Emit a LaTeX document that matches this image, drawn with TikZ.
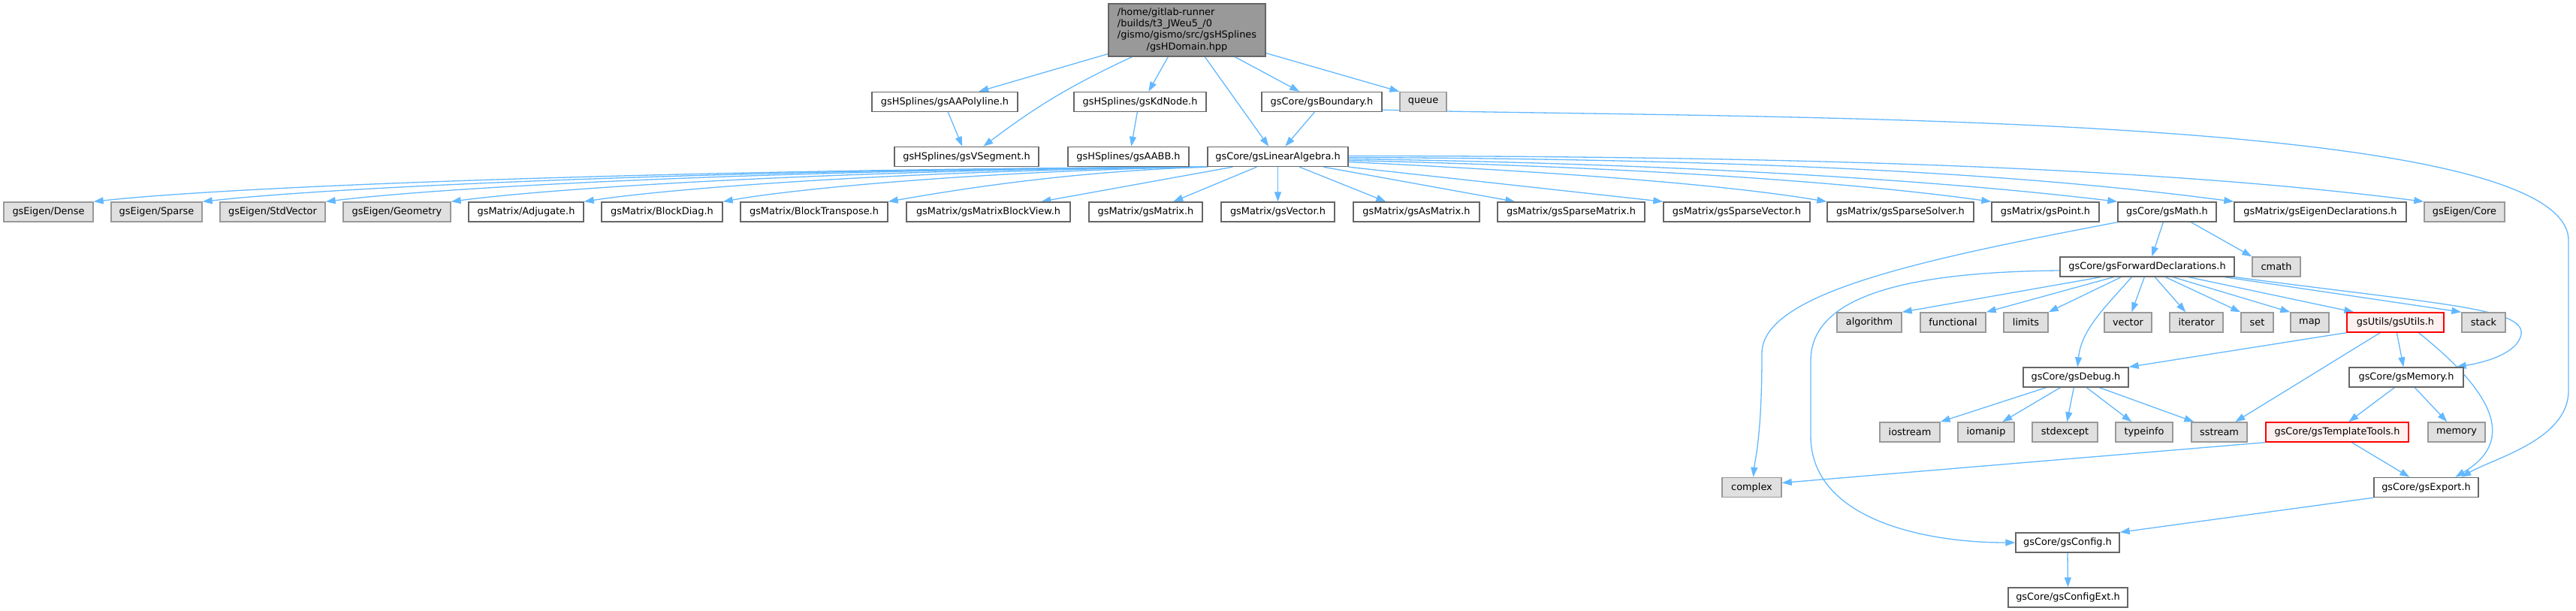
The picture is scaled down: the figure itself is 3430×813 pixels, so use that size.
\documentclass[tikz,border=0pt]{standalone}
\usepackage{fontspec}
\newfontfamily\djf{DejaVu Sans}
\usetikzlibrary{arrows.meta}
\definecolor{boxline}{HTML}{666666}
\definecolor{sysline}{HTML}{999999}
\definecolor{sysfill}{HTML}{E0E0E0}
\definecolor{rootfill}{HTML}{999999}
\definecolor{redfill}{HTML}{FFF0F0}
\definecolor{redline}{HTML}{FF0000}
\definecolor{edgecol}{HTML}{63B8FF}
\pgfdeclarelayer{bg}
\pgfsetlayers{bg,main}
\tikzset{
  nbox/.style={draw=boxline, fill=white, line width=1.4pt, minimum height=26pt, inner sep=0pt, font={\djf\fontsize{12.9}{15.3}\selectfont}},
  gbox/.style={nbox, draw=sysline, fill=sysfill},
  rbox/.style={nbox, draw=redline, fill=redfill},
  rootnode/.style={nbox, fill=rootfill, minimum height=70pt},
  edg/.style={draw=edgecol, line width=1.3pt, -{Triangle[length=13pt,width=9pt]}},
}
\begin{document}
\begin{tikzpicture}[x=1pt,y=-1pt]
\useasboundingbox (0,0) rectangle (3430,813);
% root
\node[rootnode, minimum width=209pt] (root) at (1580.5,40) {\begin{tabular}{@{}l@{}}/home/gitlab-runner\\/builds/t3\_JWeu5\_/0\\/gismo/gismo/src/gsHSplines\\\multicolumn{1}{@{}c@{}}{/gsHDomain.hpp}\end{tabular}};
% row 1
\node[nbox, minimum width=194pt] (poly) at (1258,135.5) {gsHSplines/gsAAPolyline.h};
\node[nbox, minimum width=176pt] (kd) at (1518,135.5) {gsHSplines/gsKdNode.h};
\node[nbox, minimum width=160pt] (bnd) at (1760,135.5) {gsCore/gsBoundary.h};
\node[gbox, minimum width=62pt] (queue) at (1895,135.5) {queue};
% row 2
\node[nbox, minimum width=192pt] (vseg) at (1287,208.5) {gsHSplines/gsVSegment.h};
\node[nbox, minimum width=161pt] (aabb) at (1502.5,208.5) {gsHSplines/gsAABB.h};
\node[nbox, minimum width=187pt] (la) at (1701.5,208.5) {gsCore/gsLinearAlgebra.h};
% row 3
\node[gbox, minimum width=119pt] (dense) at (64.5,282) {gsEigen/Dense};
\node[gbox, minimum width=121pt] (sparse) at (208.5,282) {gsEigen/Sparse};
\node[gbox, minimum width=140pt] (stdvec) at (363,282) {gsEigen/StdVector};
\node[gbox, minimum width=143pt] (geom) at (528.5,282) {gsEigen/Geometry};
\node[nbox, minimum width=153pt] (adj) at (700.5,282) {gsMatrix/Adjugate.h};
\node[nbox, minimum width=161pt] (bdiag) at (881.5,282) {gsMatrix/BlockDiag.h};
\node[nbox, minimum width=196pt] (btrans) at (1084,282) {gsMatrix/BlockTranspose.h};
\node[nbox, minimum width=218pt] (mbv) at (1316,282) {gsMatrix/gsMatrixBlockView.h};
\node[nbox, minimum width=151pt] (gsmat) at (1525.5,282) {gsMatrix/gsMatrix.h};
\node[nbox, minimum width=151pt] (gsvec) at (1701.5,282) {gsMatrix/gsVector.h};
\node[nbox, minimum width=168pt] (asmat) at (1886,282) {gsMatrix/gsAsMatrix.h};
\node[nbox, minimum width=196pt] (spmat) at (2092,282) {gsMatrix/gsSparseMatrix.h};
\node[nbox, minimum width=195pt] (spvec) at (2312.5,282) {gsMatrix/gsSparseVector.h};
\node[nbox, minimum width=195pt] (spsol) at (2530.5,282) {gsMatrix/gsSparseSolver.h};
\node[nbox, minimum width=143pt] (point) at (2723.5,282) {gsMatrix/gsPoint.h};
\node[nbox, minimum width=131pt] (math) at (2885.5,282) {gsCore/gsMath.h};
\node[nbox, minimum width=229pt] (eigdecl) at (3089.5,282) {gsMatrix/gsEigenDeclarations.h};
\node[gbox, minimum width=107pt] (core) at (3281.5,282) {gsEigen/Core};
% FD row
\node[nbox, minimum width=232pt] (fd) at (2859,355) {gsCore/gsForwardDeclarations.h};
\node[gbox, minimum width=64pt] (cmath) at (3031,355) {cmath};
% algorithm row
\node[gbox, minimum width=86pt] (alg) at (2489,429) {algorithm};
\node[gbox, minimum width=87pt] (func) at (2600.5,429) {functional};
\node[gbox, minimum width=59pt] (lim) at (2697.5,429) {limits};
\node[gbox, minimum width=63pt] (vec) at (2833.5,429) {vector};
\node[gbox, minimum width=71pt] (iter) at (2924.5,429) {iterator};
\node[gbox, minimum width=43pt] (set) at (3005.5,429) {set};
\node[gbox, minimum width=51pt] (map) at (3075.5,429) {map};
\node[rbox, minimum width=129pt] (utils) at (3189.5,429) {gsUtils/gsUtils.h};
\node[gbox, minimum width=58pt] (stack) at (3307,429) {stack};
% debug row
\node[nbox, minimum width=140pt] (dbg) at (2764,502) {gsCore/gsDebug.h};
\node[nbox, minimum width=152pt] (mem) at (3204,502) {gsCore/gsMemory.h};
% iostream row
\node[gbox, minimum width=80pt] (ios) at (2543,575) {iostream};
\node[gbox, minimum width=75pt] (iom) at (2644.5,575) {iomanip};
\node[gbox, minimum width=87pt] (stdx) at (2749.5,575) {stdexcept};
\node[gbox, minimum width=76pt] (tinfo) at (2855,575) {typeinfo};
\node[gbox, minimum width=74pt] (sstr) at (2955,575) {sstream};
\node[rbox, minimum width=190pt] (tt) at (3112,575) {gsCore/gsTemplateTools.h};
\node[gbox, minimum width=76pt] (memory) at (3271,575) {memory};
% complex row
\node[gbox, minimum width=79pt] (cplx) at (2332.5,648.5) {complex};
\node[nbox, minimum width=139pt] (exp) at (3230.5,648.5) {gsCore/gsExport.h};
% config rows
\node[nbox, minimum width=138pt] (cfg) at (2753,722) {gsCore/gsConfig.h};
\node[nbox, minimum width=159pt] (ext) at (2753.5,795) {gsCore/gsConfigExt.h};

\begin{pgfonlayer}{bg}
% root edges
\draw[edg] ([yshift=4pt]root.south west) -- ([xshift=143pt]poly.north west);
\draw[edg] ([xshift=32pt]root.south west) to[bend right=6] ([xshift=119pt]vseg.north west);
\draw[edg] ([xshift=80pt]root.south west) -- ([xshift=100pt]kd.north west);
\draw[edg] ([xshift=129pt]root.south west) -- ([xshift=82pt]la.north west);
\draw[edg] ([xshift=169pt]root.south west) -- ([xshift=51pt]bnd.north west);
\draw[edg] ([yshift=5pt]root.south east) -- (queue.north west);
\draw[edg] ([xshift=102pt]poly.south west) -- ([xshift=91pt]vseg.north west);
\draw[edg] ([xshift=85pt]kd.south west) -- ([xshift=85pt]aabb.north west);
\draw[edg] ([xshift=71pt]bnd.south west) -- ([xshift=104pt]la.north west);
\draw[edg] ([yshift=3pt]bnd.south east) .. controls (2300,158) and (3420,145) .. (3420,320) -- (3420,520) .. controls (3420,585) and (3320,610) .. ([xshift=117pt]exp.north west);
% linear algebra edges, left group
\draw[edg] (la.south west) .. controls +(-670,3) and +(200,-22) .. (dense.north east);
\draw[edg] (la.south west) .. controls +(-600,3) and +(200,-22) .. (sparse.north east);
\draw[edg] (la.south west) .. controls +(-530,3) and +(180,-22) .. (stdvec.north east);
\draw[edg] (la.south west) .. controls +(-450,3) and +(150,-20) .. (geom.north east);
\draw[edg] (la.south west) .. controls +(-370,4) and +(130,-20) .. (adj.north east);
\draw[edg] (la.south west) .. controls +(-290,5) and +(100,-18) .. (bdiag.north east);
\draw[edg] (la.south west) .. controls +(-190,6) and +(80,-14) .. (btrans.north east);
% middle group
\draw[edg] ([xshift=34pt]la.south west) -- ([xshift=180pt]mbv.north west);
\draw[edg] ([xshift=66pt]la.south west) -- ([xshift=113pt]gsmat.north west);
\draw[edg] (la.south) -- (gsvec.north);
\draw[edg] ([xshift=123pt]la.south west) -- ([xshift=44pt]asmat.north west);
\draw[edg] ([xshift=155pt]la.south west) -- ([xshift=24pt]spmat.north west);
\draw[edg] (la.south east) -- (spvec.north west);
% right group
\draw[edg] ([yshift=-7pt]la.east) .. controls +(250,12) and +(-150,-25) .. (spsol.north west);
\draw[edg] ([yshift=-5pt]la.east) .. controls +(350,8) and +(-200,-28) .. (point.north west);
\draw[edg] ([yshift=-3pt]la.east) .. controls +(420,6) and +(-250,-30) .. (math.north west);
\draw[edg] ([yshift=-1pt]la.east) .. controls +(500,2) and +(-300,-40) .. (eigdecl.north west);
\draw[edg] ([yshift=1pt]la.east) .. controls +(600,0) and +(-350,-45) .. (core.north west);
% gsMath
\draw[edg] ([xshift=61pt]math.south west) -- ([xshift=123pt]fd.north west);
\draw[edg] ([xshift=98pt]math.south west) -- (cmath.north west);
\draw[edg] (math.south west) .. controls (2560,345) and (2346,390) .. (2346,470) .. controls (2346,580) and (2337,610) .. ([xshift=2pt]cplx.north);
% forward declarations
\draw[edg] ([xshift=55pt]fd.south west) -- (alg.north east);
\draw[edg] ([xshift=72pt]fd.south west) -- (func.north east);
\draw[edg] ([xshift=82pt]fd.south west) -- (lim.north east);
\draw[edg] ([xshift=96pt]fd.south west) .. controls +(-35,40) and +(5,-50) .. ([xshift=73pt]dbg.north west);
\draw[edg] ([xshift=113pt]fd.south west) -- ([xshift=37pt]vec.north west);
\draw[edg] ([xshift=127pt]fd.south west) -- ([xshift=22pt]iter.north west);
\draw[edg] ([xshift=141pt]fd.south west) -- (set.north west);
\draw[edg] ([xshift=151pt]fd.south west) -- (map.north west);
\draw[edg] ([xshift=172pt]fd.south west) -- ([xshift=10pt]utils.north west);
\draw[edg] ([xshift=220pt]fd.south west) -- (stack.north west);
\draw[edg] (fd.south east) .. controls (3250,405) and (3362,410) .. (3357,445) .. controls (3352,470) and (3310,482) .. ([xshift=-10pt]mem.north east);
\draw[edg] ([yshift=-5pt]fd.west) .. controls (2520,362) and (2411,400) .. (2411,480) -- (2411,580) .. controls (2411,690) and (2560,722) .. (cfg.west);
% gsUtils
\draw[edg] (utils.south west) -- (dbg.north east);
\draw[edg] ([xshift=45pt]utils.south west) -- ([xshift=59pt]sstr.north west);
\draw[edg] ([xshift=67pt]utils.south west) -- ([xshift=73pt]mem.north west);
\draw[edg] ([xshift=96pt]utils.south west) .. controls (3330,530) and (3345,590) .. ([xshift=109pt]exp.north west);
% gsDebug
\draw[edg] ([xshift=31pt]dbg.south west) -- (ios.north east);
\draw[edg] ([xshift=50pt]dbg.south west) -- ([xshift=60pt]iom.north west);
\draw[edg] ([xshift=68pt]dbg.south west) -- ([xshift=47pt]stdx.north west);
\draw[edg] ([xshift=85pt]dbg.south west) -- ([xshift=22pt]tinfo.north west);
\draw[edg] ([xshift=102pt]dbg.south west) -- ([xshift=4pt]sstr.north west);
% gsMemory
\draw[edg] ([xshift=61pt]mem.south west) -- ([xshift=111pt]tt.north west);
\draw[edg] ([xshift=88pt]mem.south west) -- ([xshift=26pt]memory.north west);
% template tools
\draw[edg] (tt.south west) -- ([yshift=6pt]cplx.east);
\draw[edg] ([xshift=115pt]tt.south west) -- ([xshift=48pt]exp.north west);
% export / config
\draw[edg] (exp.south west) -- (cfg.north east);
\draw[edg] (cfg.south) -- (ext.north);
\end{pgfonlayer}
\end{tikzpicture}
\end{document}
